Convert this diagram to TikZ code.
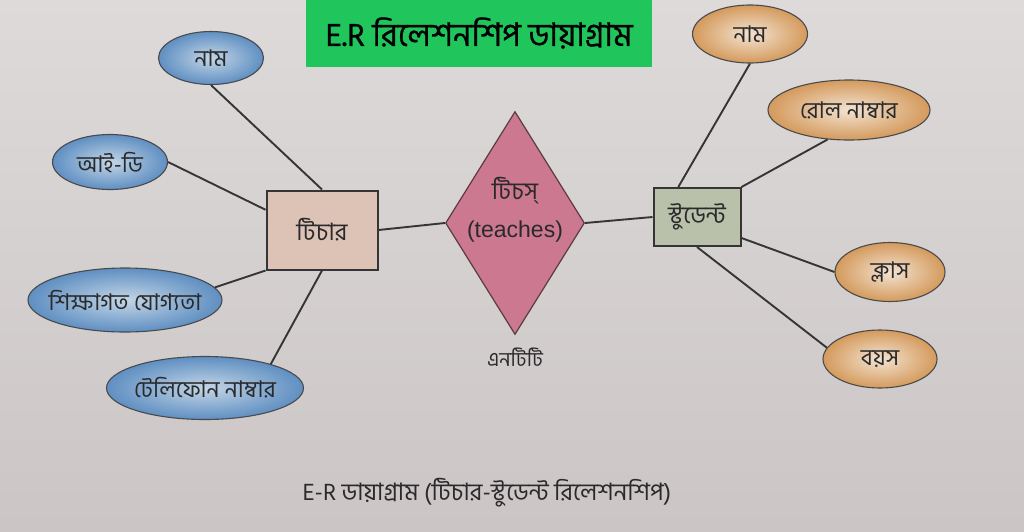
\documentclass[tikz,border=0pt]{standalone}
\usepackage{fontspec}
\newfontfamily\bn[Script=Bengali]{Hind Siliguri}
\newfontfamily\bnt[Script=Bengali,FakeBold=0.6]{Hind Siliguri}
\newfontfamily\lat{Liberation Sans}
\usetikzlibrary{shapes.geometric,calc}
\definecolor{papertop}{HTML}{DEDADA}
\definecolor{paperbot}{HTML}{CBC6C5}
\definecolor{titlegreen}{HTML}{20C55C}
\definecolor{bluein}{HTML}{C4D6E6}
\definecolor{blueout}{HTML}{5F8FC2}
\definecolor{orin}{HTML}{F3E3D2}
\definecolor{orout}{HTML}{D49A5C}
\definecolor{edgecol}{HTML}{4A4A4C}
\definecolor{linecol}{HTML}{353535}
\definecolor{teachfill}{HTML}{DDC3B6}
\definecolor{studfill}{HTML}{B9C1AA}
\definecolor{diafill}{HTML}{CB7890}
\definecolor{diaedge}{HTML}{5A3B42}
\definecolor{inkcol}{HTML}{2A2A2C}
\newcommand{\zb}[1]{\makebox[0pt]{#1}}
\tikzset{
  battr/.style={ellipse, draw=edgecol, line width=1.1pt, inner color=bluein, outer color=blueout, inner sep=0pt, text=inkcol, font=\bn\fontsize{23}{26}\selectfont},
  oattr/.style={ellipse, draw=edgecol, line width=1.1pt, inner color=orin, outer color=orout, inner sep=0pt, text=inkcol, font=\bn\fontsize{23}{26}\selectfont},
  entbox/.style={rectangle, draw=linecol, line width=2pt, inner sep=0pt, text=inkcol, font=\bn\fontsize{24}{28}\selectfont},
  relbox/.style={diamond, draw=diaedge, line width=1.2pt, fill=diafill, inner sep=0pt},
  conn/.style={draw=linecol, line width=1.9pt},
  txt/.style={inner sep=0pt, text=inkcol}
}
\begin{document}
\begin{tikzpicture}[x=1pt,y=-1pt]
\useasboundingbox (0,0) rectangle (1024,531);
\shade[top color=papertop, bottom color=paperbot] (0,0) rectangle (1024,531);
% title
\node[fill=titlegreen, minimum width=346pt, minimum height=68pt, inner sep=0pt, text=black, font=\bnt\fontsize{32.5}{36}\selectfont] (title) at (479,33) {E.R রিলেশনশিপ ডায়াগ্রাম};
% entities
\node[entbox, fill=teachfill, minimum width=111pt, minimum height=79pt] (t) at (322,230) {টিচার};
\node[entbox, fill=studfill, minimum width=87pt, minimum height=58pt] (s) at (697,217) {\zb{স্টুডেন্ট}};
% relationship
\node[relbox, minimum width=139pt, minimum height=223pt] (d) at (515,223) {};
\node[txt, font=\bn\fontsize{24}{28}\selectfont] (dbn) at (515,191) {টিচস্};
\node[txt, font=\lat\fontsize{23}{26}\selectfont] (den) at (515,232) {(teaches)};
\node[txt, font=\bn\fontsize{20}{24}\selectfont] (ent) at (515,357) {এনটিটি};
% teacher attributes
\node[battr, minimum width=105pt, minimum height=53pt] (tn) at (211,58) {\zb{নাম}};
\node[battr, minimum width=115pt, minimum height=55pt] (ti) at (110,162) {\zb{আই-ডি}};
\node[battr, minimum width=194pt, minimum height=64pt] (ts) at (125,300) {\zb{শিক্ষাগত যোগ্যতা}};
\node[battr, minimum width=197pt, minimum height=63pt] (tt) at (205,388) {\zb{টেলিফোন নাম্বার}};
% student attributes
\node[oattr, minimum width=115pt, minimum height=58pt] (sn) at (750,34) {\zb{নাম}};
\node[oattr, minimum width=162pt, minimum height=60pt] (sr) at (849,110) {\zb{রোল নাম্বার}};
\node[oattr, minimum width=110pt, minimum height=59pt] (sk) at (890,272) {\zb{ক্লাস}};
\node[oattr, minimum width=114pt, minimum height=58pt] (sb) at (880,359) {\zb{বয়স}};
% caption
\node[txt, font=\bn\fontsize{24}{28}\selectfont] (cap) at (487,493) {E-R ডায়াগ্রাম (টিচার-স্টুডেন্ট রিলেশনশিপ)};
% connectors
\draw[conn] (tn.south) -- (t.north);
\draw[conn] (ti.east) -- ($(t.north west)!0.25!(t.south west)$);
\draw[conn] (ts.8) -- (t.south west);
\draw[conn] (tt.20) -- (t.south);
\draw[conn] (t.east) -- (d.west);
\draw[conn] (d.east) -- (s.west);
\draw[conn] (sn.south) -- ($(s.north west)!0.29!(s.north east)$);
\draw[conn] (sr.-126) -- (s.north east);
\draw[conn] (sk.west) -- ($(s.north east)!0.85!(s.south east)$);
\draw[conn] (sb.168) -- (s.south);
\end{tikzpicture}
\end{document}
